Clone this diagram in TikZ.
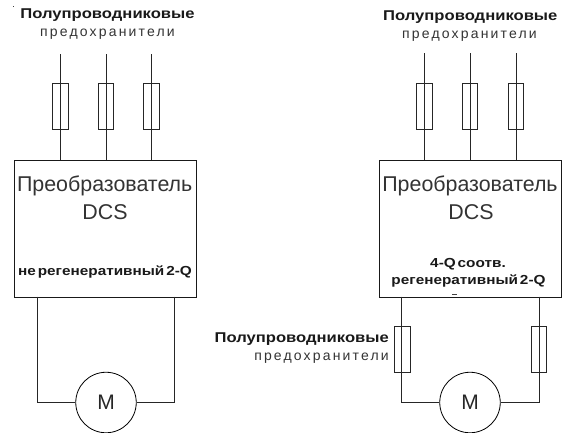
\documentclass[tikz,border=0pt]{standalone}
\usepackage{fontspec}
\setmainfont{Liberation Sans}
\newfontfamily\widebold[FakeStretch=1.17]{Liberation Sans Bold}
\newfontfamily\notebold[FakeStretch=1.17,WordSpace=0.45]{Liberation Sans Bold}
\newfontfamily\spaced[LetterSpace=15.5]{Liberation Sans}
\tikzset{
  wire/.style={line width=0.8pt,draw=black!85},
  conv/.style={draw=black!90,line width=0.9pt,minimum width=182.5pt,minimum height=137pt,inner sep=0pt},
  vfuse/.style={draw=black!85,line width=0.8pt,minimum width=15.5pt,minimum height=45.5pt,inner sep=0pt},
  motor/.style={circle,draw=black,line width=0.8pt,minimum size=60.5pt,inner sep=0pt,font=\fontsize{21}{24}\selectfont,text=black!85},
  boldlab/.style={inner sep=0pt,font=\widebold\fontsize{14.2}{17}\selectfont,text=black!90},
  thinlab/.style={inner sep=0pt,font=\spaced\fontsize{14}{17}\selectfont,text=black!80},
  biglab/.style={inner sep=0pt,font=\fontsize{21.4}{25}\selectfont,text=black!80},
  noteb/.style={inner sep=0pt,font=\notebold\fontsize{13.1}{16}\selectfont,text=black!90,align=center},
  speck/.style={fill=black!75,draw=none},
}
\begin{document}
\begin{tikzpicture}[x=1pt,y=-1pt]
\useasboundingbox (0,0) rectangle (568,432);
\fill[speck] (13,5.5) rectangle (14,6.5);
% left
\node[boldlab] (ltitle) at (107.5,15) {Полупроводниковые};
\node[thinlab] (lsub) at (107.5,34) {предохранители};
\node[conv,anchor=north west] (lbox) at (13.5,159.5) {};
\node[biglab] (lt1) at (104.7,186) {Преобразователь};
\node[biglab] (lt2) at (105,212) {DCS};
\node[noteb] (lnote) at (105,272) {не регенеративный 2-Q};
\foreach \n/\x in {a/60.5,b/106,c/151.5}{
  \node[vfuse] (lf\n) at (\x,106.5) {};
  \coordinate (lt\n) at (\x,54);
  \coordinate (lb\n) at (\x,159.5);
  \draw[wire] (lt\n) -- (lb\n);
}
\node[motor] (lm) at (106,402.5) {M};
\coordinate (lu) at (37.5,296.5);
\coordinate (lv) at (174.5,296.5);
\draw[wire] (lu) |- (lm.west);
\draw[wire] (lv) |- (lm.east);
% right
\node[boldlab] (rtitle) at (470.3,17.3) {Полупроводниковые};
\node[thinlab] (rsub) at (469.5,36.5) {предохранители};
\node[conv,anchor=north west] (rbox) at (378.5,159.5) {};
\node[biglab] (rt1) at (470,186) {Преобразователь};
\node[biglab] (rt2) at (471,212) {DCS};
\node[noteb] (rnote1) at (468,264) {4-Q соотв.};
\node[noteb] (rnote2) at (468.5,281) {регенеративный 2-Q};
\fill[speck] (452,294) rectangle (457,295);
\foreach \n/\x in {a/424.5,b/470,c/516}{
  \node[vfuse] (rf\n) at (\x,106.5) {};
  \coordinate (rt\n) at (\x,53);
  \coordinate (rb\n) at (\x,159.5);
  \draw[wire] (rt\n) -- (rb\n);
}
\node[motor] (rm) at (470,402.5) {M};
\coordinate (ru) at (401.5,296.5);
\coordinate (rv) at (539,296.5);
\node[vfuse,minimum height=46.5pt] (rfu) at (402.5,349.5) {};
\node[vfuse,minimum height=46.5pt] (rfv) at (539,349.5) {};
\draw[wire] (ru) |- (rm.west);
\draw[wire] (rv) |- (rm.east);
\node[boldlab,anchor=east] (rltitle) at (389,339) {Полупроводниковые};
\node[thinlab,anchor=east] (rlsub) at (389,358) {предохранители};
\end{tikzpicture}
\end{document}
